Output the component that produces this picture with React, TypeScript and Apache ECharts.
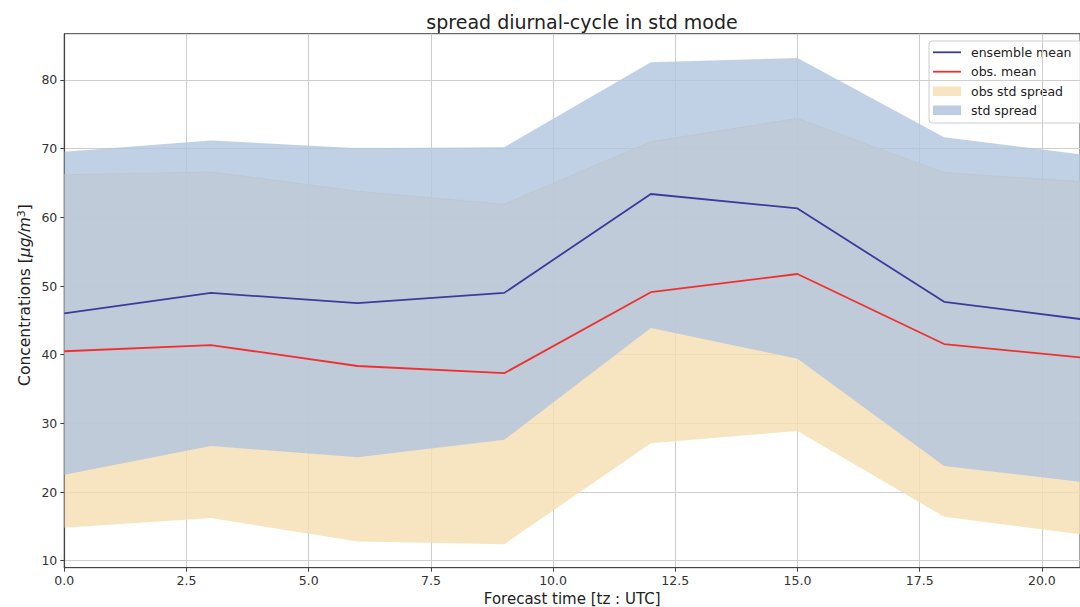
import React, { useEffect, useRef } from "react";
import * as echarts from "echarts";

const hours = [0, 3, 6, 9, 12, 15, 18, 21];
const ensembleMean = [46.0, 49.0, 47.5, 49.0, 63.4, 61.3, 47.7, 45.0];
const obsMean = [40.5, 41.4, 38.35, 37.3, 49.1, 51.75, 41.55, 39.45];
const obsStdLower = [14.8, 16.2, 12.8, 12.4, 27.1, 28.9, 16.4, 13.65];
const obsStdUpper = [66.2, 66.6, 63.8, 61.9, 71.0, 74.4, 66.5, 65.1];
const stdLower = [22.5, 26.7, 25.05, 27.6, 43.9, 39.4, 23.8, 21.3];
const stdUpper = [69.55, 71.2, 70.05, 70.2, 82.6, 83.2, 71.65, 69.0];
const yTicks = [10, 20, 30, 40, 50, 60, 70, 80];

const FONT = "DejaVu Sans";

function bandSeries(name: string, lower: number[], upper: number[], fill: string, edge: string | null, z: number) {
  return {
    name,
    type: "custom",
    z,
    silent: true,
    data: [0],
    renderItem: (params: any, api: any) => {
      const up = hours.map((h, i) => api.coord([h, upper[i]]));
      const lo = hours.map((h, i) => api.coord([h, lower[i]])).reverse();
      const cs = params.coordSys;
      const clip = { type: "rect", shape: { x: cs.x, y: cs.y, width: cs.width, height: cs.height } };
      const children: any[] = [
        { type: "polygon", shape: { points: up.concat(lo) }, style: { fill } },
      ];
      if (edge) {
        children.push({ type: "polyline", shape: { points: up }, style: { stroke: edge, lineWidth: 1.2, fill: null } });
      }
      return { type: "group", clipPath: clip, children };
    },
  };
}

export default function App() {
  const ref = useRef<HTMLDivElement>(null);
  useEffect(() => {
    document.body.style.margin = "0";
    const chart = echarts.init(ref.current!, null, { renderer: "svg" });
    const pair = (ys: number[]) => hours.map((h, i) => [h, ys[i]]);
    const option: any = {
      animation: false,
      backgroundColor: "#ffffff",
      textStyle: { fontFamily: FONT },
      title: {
        text: "spread diurnal-cycle in std mode",
        left: 577,
        top: 7,
        textAlign: "center",
        textStyle: { fontFamily: FONT, fontSize: 19, fontWeight: "normal", color: "#222" },
      },
      grid: {
        left: 64.3,
        right: 0,
        top: 33.7,
        bottom: 39.3,
        outerBoundsMode: "none",
        containLabel: false,
        show: true,
        borderColor: "#444",
        borderWidth: 1,
        backgroundColor: "transparent",
      },
      xAxis: {
        type: "value",
        min: 0,
        max: 20.78,
        interval: 2.5,
        name: "Forecast time [tz : UTC]",
        nameLocation: "middle",
        nameGap: 21,
        nameTextStyle: { fontFamily: FONT, fontSize: 15, color: "#222" },
        axisLine: { show: true, onZero: false, lineStyle: { color: "#444", width: 1.2 } },
        axisTick: { show: true, inside: false, length: 4, lineStyle: { color: "#444" } },
        axisLabel: {
          fontFamily: FONT,
          fontSize: 12.5,
          color: "#333",
          margin: 6,
          showMaxLabel: false,
          formatter: (v: number) => v.toFixed(1),
        },
        splitLine: { show: true, lineStyle: { color: "#cfcfcf", width: 1 } },
      },
      yAxis: {
        type: "value",
        min: 8.98,
        max: 86.74,
        axisLine: { show: true, onZero: false, lineStyle: { color: "#444", width: 1.2 } },
        axisTick: { show: true, inside: false, length: 4, customValues: yTicks, lineStyle: { color: "#444" } },
        axisLabel: { fontFamily: FONT, fontSize: 12.5, color: "#333", margin: 7, customValues: yTicks },
        splitLine: { show: true, lineStyle: { color: "#cfcfcf", width: 1 } },
      },
      graphic: [
        {
          type: "text",
          x: 25,
          y: 295,
          rotation: Math.PI / 2,
          style: {
            text: "{a|Concentrations [}{i|μg/m}{s|3}{a|]}",
            align: "center",
            verticalAlign: "middle",
            fill: "#222",
            rich: {
              a: { fontFamily: FONT, fontSize: 15.5, fill: "#222" },
              i: { fontFamily: FONT, fontSize: 15.5, fontStyle: "italic", fill: "#222" },
              s: { fontFamily: FONT, fontSize: 11, fill: "#222", verticalAlign: "top", padding: [0, 0, 8, 0] },
            },
          },
          z: 10,
        },
        {
          type: "group",
          z: 20,
          children: [
            {
              type: "rect",
              shape: { x: 929, y: 41, width: 200, height: 82, r: 3 },
              style: { fill: "rgba(255,255,255,0.85)", stroke: "#cccccc", lineWidth: 1 },
            },
            { type: "line", shape: { x1: 933, y1: 52.3, x2: 961, y2: 52.3 }, style: { stroke: "#3b3b9c", lineWidth: 1.8 } },
            { type: "line", shape: { x1: 933, y1: 71.7, x2: 961, y2: 71.7 }, style: { stroke: "#f03030", lineWidth: 1.8 } },
            { type: "rect", shape: { x: 933, y: 86.5, width: 28, height: 9.5 }, style: { fill: "rgba(245,222,179,0.8)" } },
            { type: "rect", shape: { x: 933, y: 105.5, width: 28, height: 9.5 }, style: { fill: "rgba(176,196,222,0.85)" } },
            { type: "text", x: 971, y: 52.3, style: { text: "ensemble mean", fontFamily: FONT, fontSize: 12.5, fill: "#222", verticalAlign: "middle" } },
            { type: "text", x: 971, y: 71.7, style: { text: "obs. mean", fontFamily: FONT, fontSize: 12.5, fill: "#222", verticalAlign: "middle" } },
            { type: "text", x: 971, y: 91, style: { text: "obs std spread", fontFamily: FONT, fontSize: 12.5, fill: "#222", verticalAlign: "middle" } },
            { type: "text", x: 971, y: 110.3, style: { text: "std spread", fontFamily: FONT, fontSize: 12.5, fill: "#222", verticalAlign: "middle" } },
          ],
        },
      ],
      series: [
        bandSeries("obs std spread", obsStdLower, obsStdUpper, "rgba(245,222,179,0.8)", "#ead6ae", 1),
        bandSeries("std spread", stdLower, stdUpper, "rgba(176,196,222,0.8)", null, 2),
        {
          name: "ensemble mean",
          type: "line",
          data: pair(ensembleMean),
          symbol: "none",
          lineStyle: { color: "#3b3b9c", width: 1.8 },
          z: 3,
        },
        {
          name: "obs. mean",
          type: "line",
          data: pair(obsMean),
          symbol: "none",
          lineStyle: { color: "#f03030", width: 1.8 },
          z: 3,
        },
      ],
    };
    chart.setOption(option);
    return () => chart.dispose();
  }, []);
  return <div ref={ref} style={{ width: 1080, height: 607, position: "absolute", left: 0, top: 0 }} />;
}
